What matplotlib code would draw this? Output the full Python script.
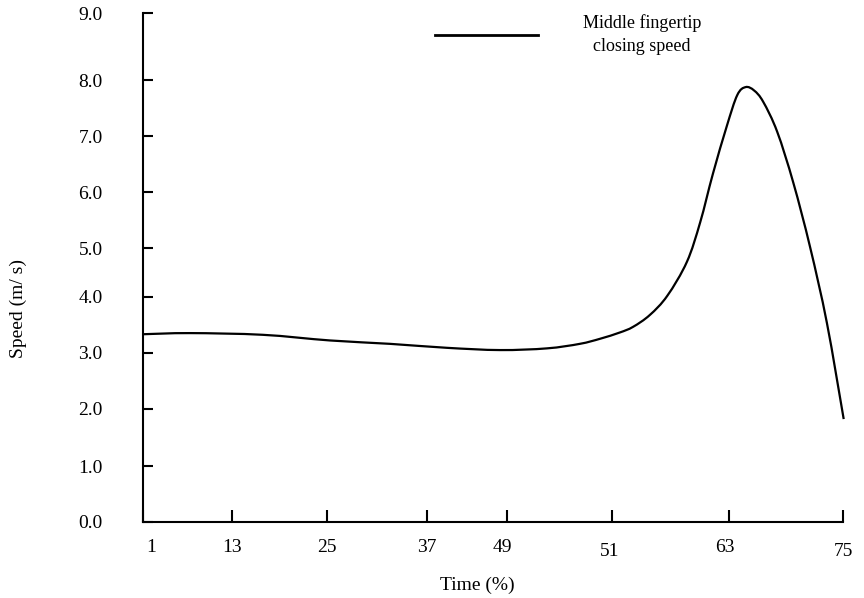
import numpy as np
import matplotlib
matplotlib.use("Agg")
import matplotlib.pyplot as plt
import matplotlib.transforms as mtrans
from matplotlib.path import Path
from matplotlib.patches import PathPatch
from matplotlib.lines import Line2D

plt.rcParams['font.family'] = ['Liberation Serif', 'DejaVu Serif']

# curve (x: 0-100 along the drawn time axis, y: speed m/s)
x_pos = [0, 6.7, 17.1, 26.7, 35.3, 43.4, 51.0, 57.7, 62.4, 65.3, 68.1, 70.0,
         72.4, 74.9, 77.7, 79.6, 81.4, 83.4, 84.9, 86.1, 87.3, 88.6, 90.6,
         92.9, 95.3, 97.7, 100.1]
speed = [3.32, 3.34, 3.31, 3.21, 3.15, 3.08, 3.04, 3.07, 3.15, 3.24, 3.35, 3.45,
         3.66, 4.00, 4.60, 5.30, 6.15, 7.00, 7.55, 7.69, 7.63, 7.43, 6.90,
         6.00, 4.86, 3.52, 1.82]

time_labels = ['1', '13', '25', '37', '49', '51', '63', '75']
speed_labels = ['0.0', '1.0', '2.0', '3.0', '4.0', '5.0', '6.0', '7.0', '8.0', '9.0']

# the axis in the original is hand drawn, ticks are not evenly spaced
xtick_pos = [0, 12.7, 26.3, 40.6, 52.0, 67.0, 83.7, 100]
ytick_pos = [0, 0.99, 2.00, 2.99, 3.98, 4.84, 5.83, 6.82, 7.81, 9.0]

fig = plt.figure(figsize=(8.64, 5.98), dpi=100)
ax = fig.add_axes([143/864, 1-522/598, 700/864, 509/598])

# smooth line through the read points (catmull-rom -> bezier path)
pts = np.column_stack([x_pos, speed])
verts = [pts[0]]
codes = [Path.MOVETO]
for i in range(len(pts) - 1):
    p0 = pts[max(i - 1, 0)]
    p1 = pts[i]
    p2 = pts[i + 1]
    p3 = pts[min(i + 2, len(pts) - 1)]
    verts += [p1 + (p2 - p0) / 6, p2 - (p3 - p1) / 6, p2]
    codes += [Path.CURVE4] * 3
ax.add_patch(PathPatch(Path(verts, codes), fill=False, edgecolor='black',
                       lw=1.6, clip_on=False))

ax.set_xlim(0, 100)
ax.set_ylim(0, 9.0)
ax.spines['top'].set_visible(False)
ax.spines['right'].set_visible(False)
ax.spines['left'].set_linewidth(1.5)
ax.spines['bottom'].set_linewidth(1.5)

ax.set_xticks(xtick_pos)
ax.set_xticklabels(time_labels)
ax.set_yticks(ytick_pos)
ax.set_yticklabels(speed_labels)
ax.tick_params(axis='x', direction='in', length=8.6, width=1.5, pad=12, labelsize=14)
ax.tick_params(axis='y', direction='in', length=7.2, width=1.5, pad=29, labelsize=14)

# small nudges of the x tick labels, as in the original
dx = [8, 0, 0, 0, -5, -2, -4, 0]
dy = [0, 0, 0, 0, 0, -4, 0, -4]
for t, a, b in zip(ax.xaxis.get_major_ticks(), dx, dy):
    off = mtrans.ScaledTranslation(a/100, b/100, fig.dpi_scale_trans)
    t.label1.set_transform(t.label1.get_transform() + off)

fig.text(18/864, 1-309/598, 'Speed (m/ s)', rotation=90, fontsize=14,
         ha='center', va='center')
fig.text(477/864, 1-585/598, 'Time (%)', fontsize=14, ha='center', va='center')

handle = Line2D([], [], color='black', lw=2)
leg = ax.legend([handle], ['Middle fingertip\nclosing speed'], loc='upper left',
                bbox_to_anchor=(435/864, 1-14/598),
                bbox_transform=fig.transFigure, frameon=False, fontsize=13,
                handlelength=5.7, handletextpad=2.5, borderpad=0, borderaxespad=0)
for txt in leg.get_texts():
    txt.set_multialignment('center')
    txt.set_linespacing(1.45)

fig.savefig('out.png', dpi=100)
